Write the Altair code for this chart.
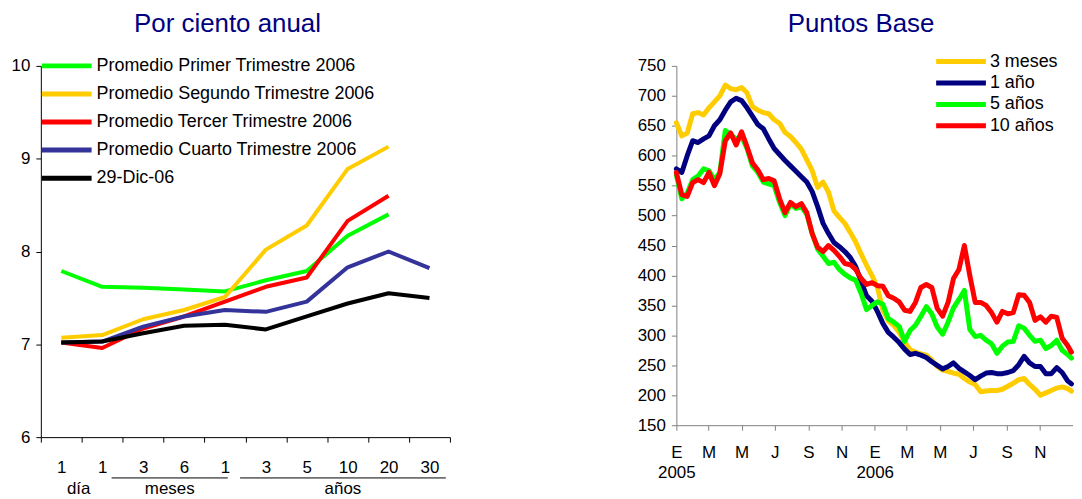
import json
import altair as alt
import pandas as pd

FONT = "Liberation Sans"

# ---------------- Left panel: yield curve ----------------
tenor_labels = ["1", "1", "3", "6", "1", "3", "5", "10", "20", "30"]
left_series = ["Promedio Primer Trimestre 2006", "Promedio Segundo Trimestre 2006",
               "Promedio Tercer Trimestre 2006", "Promedio Cuarto Trimestre 2006", "29-Dic-06"]
left_colors = ["#00FF00", "#FFCC00", "#FF0000", "#333399", "#000000"]
primer_trim = [7.79, 7.62, 7.61, 7.59, 7.57, 7.69, 7.79, 8.17, 8.40, None]
segundo_trim = [7.07, 7.10, 7.27, 7.37, 7.51, 8.02, 8.28, 8.89, 9.13, None]
tercer_trim = [7.02, 6.96, 7.17, 7.30, 7.46, 7.62, 7.72, 8.33, 8.60, None]
cuarto_trim = [7.02, 7.03, 7.19, 7.30, 7.37, 7.35, 7.46, 7.83, 8.00, 7.82]
dic_29 = [7.02, 7.03, 7.12, 7.20, 7.21, 7.16, 7.30, 7.44, 7.55, 7.50]

group_names = ["día", "meses", "años"]
group_start = [0.55, 1.73, 4.87]
group_end = [1.30, 4.57, 9.90]
group_underline = [False, True, True]

# ---------------- Right panel: spreads (puntos base) ----------------
right_series = ["3 meses", "1 año", "5 años", "10 años"]
right_colors = ["#FFCC00", "#000080", "#00FF00", "#FF0000"]
fechas = pd.date_range("2005-01-01", periods=73, freq="10D").strftime("%Y-%m-%d").tolist() + ["2006-12-29"]
tres_meses = [655, 633, 638, 670, 672, 668, 680, 690, 700, 718, 712, 710, 714, 705, 682, 676, 672, 670, 660,
              654, 639, 632, 622, 611, 593, 575, 547, 556, 539, 508, 497, 487, 472, 456, 436, 417, 400,
              380, 342, 324, 317, 305, 289, 276, 272, 269, 267, 259, 248, 242, 240, 237, 235, 228, 222,
              218, 206, 207, 208, 208, 210, 215, 220, 226, 228, 218, 210, 200, 204, 208, 212, 214, 211,
              207]
un_ano = [578, 572, 600, 625, 622, 628, 633, 650, 660, 676, 690, 696, 692, 680, 666, 652, 645, 628, 612,
          602, 592, 583, 574, 565, 556, 540, 515, 487, 470, 455, 448, 440, 430, 415, 390, 366, 357,
          340, 320, 305, 297, 288, 277, 268, 270, 267, 263, 256, 250, 244, 248, 254, 245, 239, 233,
          226, 232, 237, 238, 236, 236, 238, 241, 251, 265, 254, 248, 248, 236, 236, 246, 238, 224,
          219]
cinco_anos = [568, 528, 538, 560, 566, 578, 575, 560, 572, 642, 635, 628, 632, 612, 583, 572, 556, 553, 550,
              522, 500, 520, 512, 515, 502, 470, 444, 432, 420, 422, 410, 402, 396, 392, 370, 343, 350,
              356, 352, 328, 322, 315, 290, 308, 317, 332, 348, 336, 314, 302, 322, 346, 360, 375, 310,
              298, 300, 292, 286, 270, 282, 289, 290, 316, 312, 300, 290, 292, 278, 283, 292, 275, 268,
              262]
diez_anos = [572, 535, 532, 555, 560, 555, 572, 550, 570, 625, 638, 618, 640, 615, 588, 576, 560, 562, 558,
             528, 505, 522, 515, 520, 505, 470, 447, 440, 450, 442, 432, 420, 418, 410, 395, 385, 388,
             383, 382, 366, 362, 356, 342, 340, 355, 380, 385, 380, 345, 332, 355, 395, 410, 450, 400,
             355, 355, 350, 338, 322, 340, 336, 338, 368, 367, 355, 325, 331, 322, 332, 330, 295, 283,
             272]
month_letters = ["E", "F", "M", "A", "M", "J", "J", "A", "S", "O", "N", "D"]

# ---------------- build tables ----------------
rows = []
for name, vals in zip(left_series, [primer_trim, segundo_trim, tercer_trim, cuarto_trim, dic_29]):
    for i, v in enumerate(vals):
        if v is not None:
            rows.append({"serie": name, "pos": i + 0.5, "valor": v})
left_df = pd.DataFrame(rows)

groups_df = pd.DataFrame({"grupo": group_names, "inicio": group_start,
                          "fin": group_end, "linea": group_underline})
groups_df["centro"] = (groups_df["inicio"] + groups_df["fin"]) / 2

rrows = []
for name, vals in zip(right_series, [tres_meses, un_ano, cinco_anos, diez_anos]):
    for f, v in zip(fechas, vals):
        rrows.append({"plazo": name, "fecha": f, "valor": v})
right_df = pd.DataFrame(rrows)


def ms(s):
    return int(pd.Timestamp(s, tz="UTC").value // 10**6)


LW, LH = 411, 373
RW, RH = 398, 361
band = LW / len(tenor_labels)

left_label_expr = json.dumps(tenor_labels + [""]) + "[datum.value]"
right_label_expr = ("[" + json.dumps(month_letters) + "[utcmonth(datum.value)], "
                    "utcmonth(datum.value) == 0 ? '' + utcyear(datum.value) : '']")

x_left_scale = alt.Scale(domain=[0, len(tenor_labels)], nice=False, zero=False)

left_lines = alt.Chart(left_df).mark_line(strokeWidth=4, strokeJoin="round").encode(
    x=alt.X("pos:Q", scale=x_left_scale, title=None,
            axis=alt.Axis(values=list(range(len(tenor_labels) + 1)), labelExpr=left_label_expr,
                          labelOffset=band / 2, labelFlush=False, labelOverlap=False,
                          tickSize=5, labelPadding=18, grid=False)),
    y=alt.Y("valor:Q", scale=alt.Scale(domain=[6, 10], nice=False, zero=False), title=None,
            axis=alt.Axis(values=[6, 7, 8, 9, 10], format="d", tickSize=5, labelPadding=6, grid=False)),
    color=alt.Color("serie:N", scale=alt.Scale(domain=left_series, range=left_colors),
                    legend=alt.Legend(title=None, orient="none", legendX=1, legendY=-9,
                                      symbolType="M-5,0H5", symbolSize=100, symbolStrokeWidth=5,
                                      symbolOffset=16, labelOffset=21, labelFontSize=18,
                                      labelColor="#000000", labelFont=FONT, rowPadding=8.2,
                                      padding=0, labelLimit=500)),
)

group_rules = alt.Chart(groups_df).transform_filter("datum.linea").mark_rule(
    color="#000000", strokeWidth=1).encode(
    x=alt.X("inicio:Q", scale=x_left_scale, title=None),
    x2="fin:Q",
    y=alt.value(LH + 41),
)
group_text = alt.Chart(groups_df).mark_text(
    fontSize=17, font=FONT, color="#000000", baseline="alphabetic", align="center").encode(
    x=alt.X("centro:Q", scale=x_left_scale, title=None),
    text="grupo:N",
    y=alt.value(LH + 57),
)

left = alt.layer(left_lines, group_rules, group_text).properties(
    width=LW, height=LH,
    title=alt.TitleParams("Por ciento anual", offset=-1.4, dx=-18, baseline="alphabetic",
                          fontSize=26, color="#000080", font=FONT, fontWeight="normal",
                          anchor="middle", frame="group"),
)

right = alt.Chart(right_df).mark_line(strokeWidth=5, strokeJoin="round", strokeCap="round").encode(
    x=alt.X("fecha:T", title=None,
            scale=alt.Scale(type="utc", domain=[ms("2005-01-01"), ms("2006-12-31")], nice=False),
            axis=alt.Axis(values=[ms(f"{y}-{m:02d}-01") for y in (2005, 2006) for m in (1, 3, 5, 7, 9, 11)],
                          labelExpr=right_label_expr, labelLineHeight=21, labelFlush=False,
                          labelOverlap=False, labelAlign="center", tickSize=5, labelPadding=14,
                          grid=False, domainColor="#808080", tickColor="#808080")),
    y=alt.Y("valor:Q", title=None, scale=alt.Scale(domain=[150, 750], nice=False, zero=False),
            axis=alt.Axis(values=list(range(150, 751, 50)), format="d", tickSize=5, labelPadding=6,
                          grid=False, domainColor="#808080", tickColor="#808080")),
    color=alt.Color("plazo:N", scale=alt.Scale(domain=right_series, range=right_colors),
                    legend=alt.Legend(title=None, orient="none", legendX=261, legendY=-13.3,
                                      symbolType="M-5,0H5", symbolSize=100, symbolStrokeWidth=5,
                                      symbolOffset=16, labelOffset=20, labelFontSize=18,
                                      labelColor="#000000", labelFont=FONT, rowPadding=1.5,
                                      padding=0)),
).properties(
    width=RW, height=RH,
    title=alt.TitleParams("Puntos Base", offset=-5.6, dx=-13.5, baseline="alphabetic",
                          fontSize=26, color="#000080", font=FONT, fontWeight="normal",
                          anchor="middle", frame="group"),
)

chart = alt.hconcat(left, right, spacing=166.5).resolve_scale(
    color="independent", x="independent", y="independent"
).resolve_legend(color="independent").properties(
    padding={"left": 3, "top": 2, "right": 0, "bottom": 0}
).configure_view(stroke=None).configure_axis(
    labelFont=FONT, labelFontSize=17, labelColor="#000000",
    domainColor="#000000", tickColor="#000000", domainWidth=1, tickWidth=1,
)

chart.save("out.html", embed_options={"renderer": "svg", "actions": False})
